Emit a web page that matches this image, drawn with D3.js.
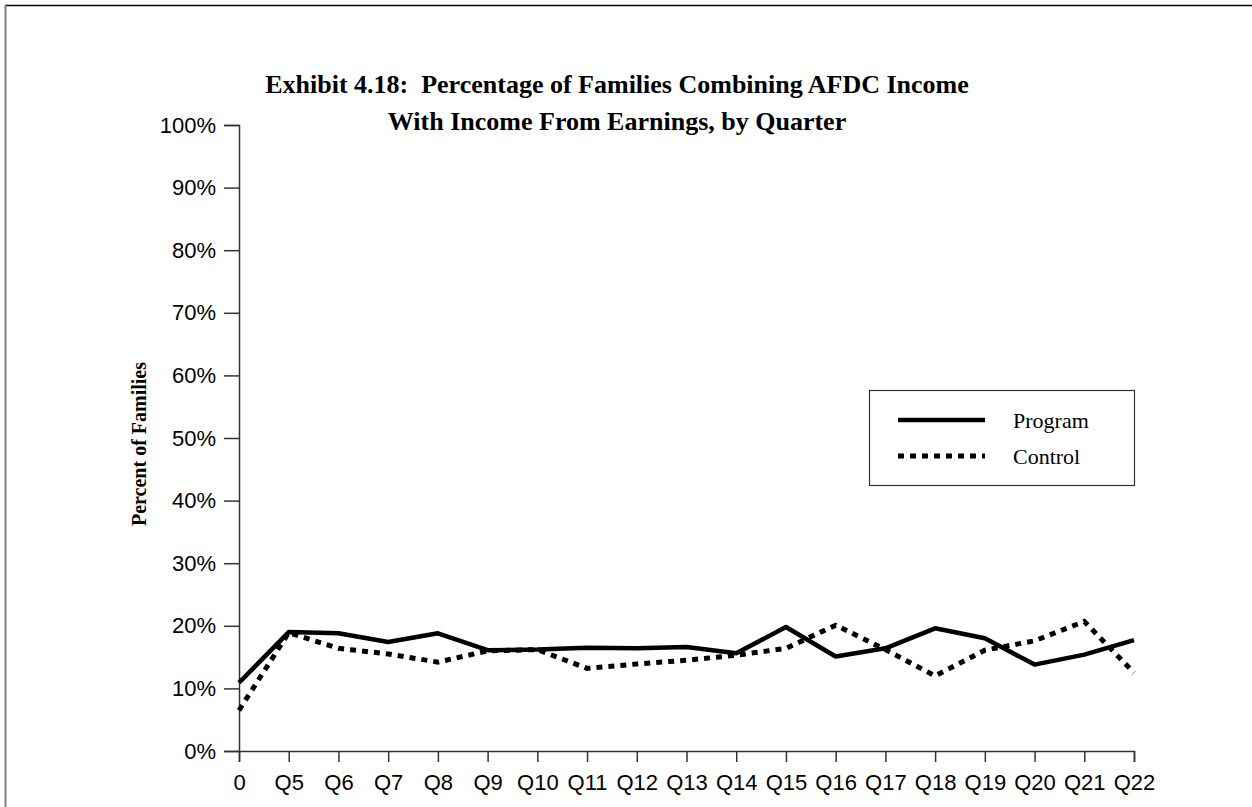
<!DOCTYPE html>
<html>
<head>
<meta charset="utf-8">
<script src="https://cdn.jsdelivr.net/npm/d3@7"></script>
<style>
  body { margin: 0; background: #fff; }
  svg { display: block; }
</style>
</head>
<body>
<script>
// chart data
var quarters = ["0", "Q5", "Q6", "Q7", "Q8", "Q9", "Q10", "Q11", "Q12", "Q13", "Q14",
                "Q15", "Q16", "Q17", "Q18", "Q19", "Q20", "Q21", "Q22"];
var programValues = [10.9, 19.0, 18.8, 17.4, 18.8, 16.1, 16.2, 16.5, 16.4, 16.6, 15.6,
                     19.8, 15.1, 16.4, 19.6, 18.0, 13.8, 15.4, 17.7];
var controlValues = [6.5, 18.9, 16.4, 15.5, 14.2, 16.0, 16.2, 13.2, 13.9, 14.5, 15.3,
                     16.4, 20.1, 16.2, 12.0, 16.1, 17.6, 20.7, 12.5];
var yTicks = [0, 10, 20, 30, 40, 50, 60, 70, 80, 90, 100];
var seriesNames = ["Program", "Control"];
var titleLines = ["Exhibit 4.18:  Percentage of Families Combining AFDC Income",
                  "With Income From Earnings, by Quarter"];

var w = 1252, h = 807;
var margin = {top: 125, right: 118, bottom: 56, left: 239};

var svg = d3.select("body").append("svg")
  .attr("width", w)
  .attr("height", h);

// outer frame
svg.append("line").attr("x1", 5).attr("x2", w).attr("y1", 5.5).attr("y2", 5.5)
  .attr("stroke", "#000").attr("stroke-width", 1.5);
svg.append("line").attr("x1", 5.5).attr("x2", 5.5).attr("y1", 5).attr("y2", h)
  .attr("stroke", "#808080").attr("stroke-width", 2);

// title
svg.selectAll("text.title")
  .data(titleLines)
  .enter()
  .append("text")
  .attr("class", "title")
  .attr("x", 617)
  .attr("y", function(d, i) { return 93 + i * 37; })
  .attr("text-anchor", "middle")
  .style("white-space", "pre")
  .style("font-family", "'Liberation Serif', 'Times New Roman', serif")
  .style("font-weight", "bold")
  .style("font-size", "26px")
  .text(function(d) { return d; });

// scales
var xScale = d3.scalePoint()
  .domain(quarters)
  .range([margin.left, w - margin.right]);

var yScale = d3.scaleLinear()
  .domain([0, 100])
  .range([h - margin.bottom, margin.top]);

// y axis
var yAxis = svg.append("g")
  .attr("transform", "translate(" + margin.left + ",0)")
  .call(d3.axisLeft(yScale).tickValues(yTicks).tickSize(15).tickPadding(8)
    .tickFormat(function(d) { return d + "%"; }));

// x axis
var xAxis = svg.append("g")
  .attr("transform", "translate(0," + (h - margin.bottom) + ")")
  .call(d3.axisBottom(xScale).tickSize(11).tickPadding(12));

[xAxis, yAxis].forEach(function(ax) {
  ax.select(".domain").attr("stroke", "#333").attr("stroke-width", 1.5);
  ax.selectAll(".tick line").attr("stroke", "#333").attr("stroke-width", 1.5);
  ax.selectAll(".tick text")
    .attr("fill", "#000")
    .style("font-family", "'Liberation Sans', Arial, sans-serif")
    .style("font-size", "22px");
});

// y axis title
svg.append("text")
  .attr("transform", "translate(146,444) rotate(-90)")
  .attr("text-anchor", "middle")
  .style("font-family", "'Liberation Serif', 'Times New Roman', serif")
  .style("font-weight", "bold")
  .style("font-size", "20px")
  .text("Percent of Families");

// lines
var line = d3.line()
  .x(function(d, i) { return xScale(quarters[i]); })
  .y(function(d) { return yScale(d); });

svg.append("path")
  .datum(controlValues)
  .attr("fill", "none")
  .attr("stroke", "#000")
  .attr("stroke-width", 5)
  .attr("stroke-dasharray", "6,6")
  .attr("d", line);

svg.append("path")
  .datum(programValues)
  .attr("fill", "none")
  .attr("stroke", "#000")
  .attr("stroke-width", 4.5)
  .attr("stroke-linejoin", "round")
  .attr("d", line);

// legend
var legend = svg.append("g").attr("transform", "translate(869,390)");
legend.append("rect")
  .attr("x", 0.5).attr("y", 0.5)
  .attr("width", 265).attr("height", 95)
  .attr("fill", "#fff")
  .attr("stroke", "#333")
  .attr("stroke-width", 1.2);

var items = legend.selectAll("g.item")
  .data(seriesNames)
  .enter()
  .append("g")
  .attr("class", "item")
  .attr("transform", function(d, i) { return "translate(0," + (30 + i * 36) + ")"; });

items.append("line")
  .attr("x1", 29).attr("x2", 116)
  .attr("stroke", "#000")
  .attr("stroke-width", function(d, i) { return i == 0 ? 4.5 : 5; })
  .attr("stroke-dasharray", function(d, i) { return i == 0 ? null : "6,6"; });

items.append("text")
  .attr("x", 144)
  .attr("y", 8)
  .style("font-family", "'Liberation Serif', 'Times New Roman', serif")
  .style("font-size", "22px")
  .text(function(d) { return d; });
</script>
</body>
</html>
